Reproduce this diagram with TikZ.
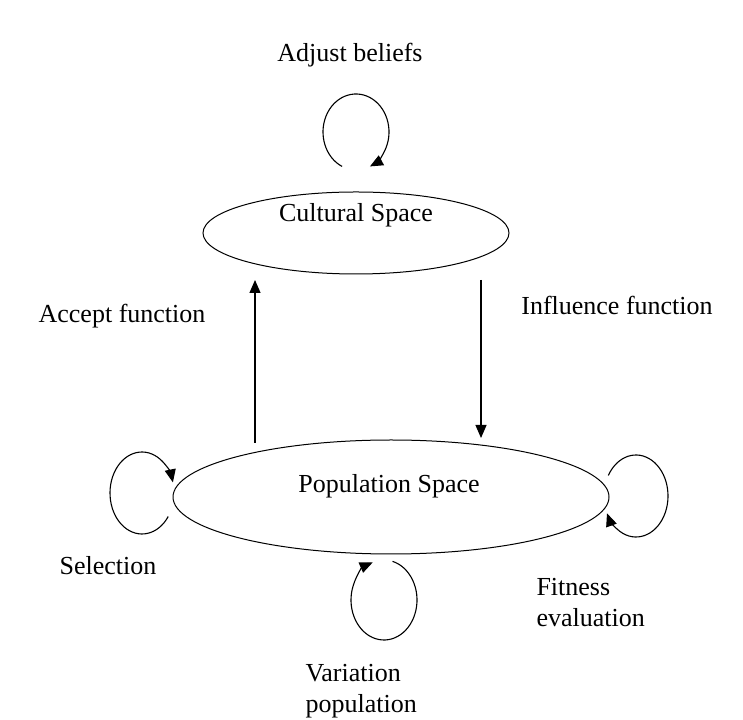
\documentclass[tikz,border=0pt]{standalone}
\usepackage{fontspec}
\setmainfont{Liberation Serif}
\usetikzlibrary{shapes.geometric,arrows.meta,calc}
\begin{document}
\begin{tikzpicture}[x=1pt,y=1pt,
  lbl/.style={font=\fontsize{26}{31}\selectfont, align=left},
  sp/.style={draw, line width=1pt, ellipse, inner sep=0pt},
  arr/.style={line width=1.2pt, -{Triangle[length=13pt,width=11pt]}},
  loop/.style={line width=1.1pt, -{Triangle[length=13pt,width=11pt]}}]
\useasboundingbox (0,0) rectangle (743,719);
\node[sp, minimum width=306, minimum height=82] (cs) at (356,486) {};
\node[lbl] (cst) at (356,504) {Cultural Space};
\node[sp, minimum width=436, minimum height=114] (ps) at (391,222) {};
\node[lbl] (pst) at (389,233) {Population Space};
\coordinate (a1) at (255,276);
\coordinate (a2) at (255,439);
\coordinate (b1) at (481,439);
\coordinate (b2) at (481,281);
\draw[arr] (a1) -- (a2);
\draw[arr] (b1) -- (b2);
\node[lbl] (ab) at (350,664) {Adjust beliefs};
\node[lbl] (af) at (122,403) {Accept function};
\node[lbl] (inf) at (617,414) {Influence function};
\node[lbl] (sel) at (108,153) {Selection};
\node[lbl, anchor=west] (fit) at (533,116) {Fitness\\evaluation};
\node[lbl, anchor=west] (var) at (302,28) {Variation\\population};
% loops
\draw[loop] ($(356,587)+(245:33 and 38)$) arc[start angle=245,end angle=-65,x radius=33,y radius=38];
\draw[loop] ($(142,226)+(-35:32 and 41)$) arc[start angle=-35,end angle=-345,x radius=32,y radius=41];
\draw[loop] ($(636,223)+(150:32 and 41)$) arc[start angle=150,end angle=-155,x radius=32,y radius=41];
\draw[loop] ($(384,119)+(75:33 and 40)$) arc[start angle=75,end angle=-250,x radius=33,y radius=40];
\end{tikzpicture}
\end{document}
